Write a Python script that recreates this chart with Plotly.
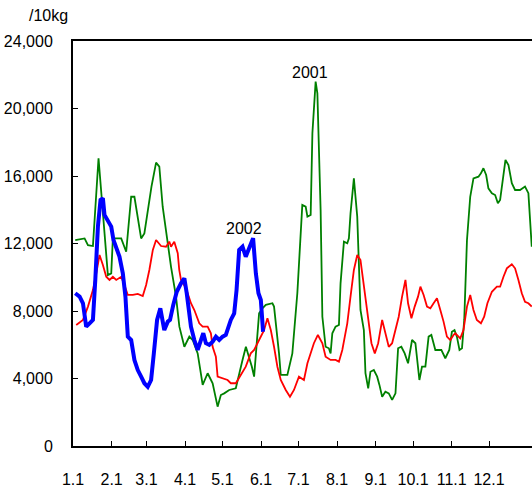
import plotly.graph_objects as go

# day of year (0 = Jan 1) and price per 10kg
green_days = [1.8, 9.3, 12, 16, 20.5, 28, 30.7, 32, 38.7, 42.7, 46.7, 49.3, 54.7, 57.3, 63, 66.7,
              69.3, 72, 78.7, 82.7, 85.4, 89.4, 93.4, 96.1, 100.1, 104.1, 108.1, 112.1, 116.1,
              118.7, 121.4, 125.4, 130.7, 133.4, 136.1, 138.8, 141.4, 143.6, 145.4, 146.8, 149.4,
              152.1, 154.8, 160.1, 161.4, 165.4, 166.8, 172.1, 176.1, 180.1, 181.4, 184.1, 186.8,
              188.2, 190.8, 192.2, 194.8, 196.2, 198.8, 200.2, 202.8, 205.4, 206.8, 208.2, 210.8,
              213.5, 214.8, 217.5, 220.2, 221.5, 222.8, 225.5, 228.2, 230.8, 233.5, 234.8, 237,
              238.8, 241.5, 244.2, 246, 248.2, 250.8, 253.5, 256.2, 258.9, 261, 263.6, 266.3, 269,
              272.2, 274.9, 278.1, 280.2, 282.9, 285.5, 287.7, 290.9, 295.7, 298.9, 302.1, 304.2,
              306.3, 308.2, 310.3, 312.3, 314.1, 316.3, 318.9, 321.5, 325.5, 327.5, 329.5, 331.7,
              333.5, 336.3, 338.9, 341.1, 342.9, 345.1, 347.2, 349.6, 352.3, 354.9, 358.9, 362.9,
              365.6, 368.3]
green_vals = [12200, 12300, 11900, 11850, 17050, 10130, 10230, 12300, 12300, 11510, 14770, 14770,
              12300, 12600, 15370, 16790, 16550, 14180, 10620, 8850, 7070, 5880, 6480, 6280, 5490,
              3620, 4310, 3720, 2330, 3020, 3120, 3320, 3420, 4310, 5100, 5880, 5290, 4700, 4110,
              5490, 7860, 8160, 8360, 8460, 8260, 5490, 4210, 4210, 5490, 9050, 11020, 14280,
              14180, 13590, 13690, 18530, 21590, 20900, 13990, 7660, 5880, 5790, 5490, 6680, 7070,
              7170, 9640, 12110, 12010, 12310, 13790, 15860, 13590, 8060, 6870, 4310, 3420, 4400,
              4500, 4110, 3620, 2920, 3220, 3120, 2730, 3120, 5790, 5880, 5490, 4900, 6280, 6090,
              3910, 4700, 4700, 6480, 6580, 5690, 5690, 5200, 5690, 6770, 6870, 6480, 5690, 5790,
              7470, 12210, 14770, 15860, 15960, 16160, 16460, 16060, 15270, 14980, 14870, 14380,
              14580, 15760, 16950, 16650, 15570, 15170, 15170, 15370, 14980, 11810]

red_days = [2.6, 8, 12, 16, 18.7, 21.3, 24, 26.7, 29.3, 32, 34.7, 38.7, 41.3, 44, 48, 52, 56,
            58.7, 61.3, 64.1, 66.7, 70.7, 74.7, 77.3, 78.7, 81.3, 84.1, 85.3, 86.7, 90.7, 94.7,
            97.4, 101.4, 104.1, 108.1, 110.7, 112.1, 114.7, 116.1, 120.1, 124.1, 126.7, 130.7,
            134.7, 138.7, 142.7, 145.4, 149.4, 153.4, 156.1, 158.8, 161.4, 164.1, 166.8, 170.8,
            174.2, 177.4, 181.4, 185.4, 188.2, 190.8, 193.4, 196.6, 200.2, 202.8, 206.8, 210.8,
            213.5, 216.2, 220.2, 222.8, 225.5, 228.2, 230.8, 232.2, 234.8, 237.5, 239.6, 242.3,
            245, 248.2, 250.8, 253.5, 256.2, 258.9, 261.5, 264.2, 266.9, 269, 271.7, 274.3, 277,
            278.9, 281.5, 284.2, 286.9, 289.5, 292.2, 294.9, 297.5, 300.2, 302.9, 305.5, 306.9,
            310.9, 313.5, 316.3, 318.9, 321.5, 324.2, 327.5, 330.1, 332.7, 336.3, 340.3, 342.9,
            345.6, 348.3, 352.3, 354.9, 357.6, 360.3, 362.9, 365.6, 368.3]
red_vals = [7170, 7470, 8260, 9240, 10230, 11320, 10730, 10030, 9840, 10030, 9840, 10030, 9540,
            8950, 8950, 9010, 8890, 9540, 10430, 11620, 12210, 11850, 11810, 12110, 11810, 12110,
            11420, 10430, 9840, 9350, 8460, 8060, 7270, 7070, 7070, 6680, 5880, 5290, 4110, 4010,
            3910, 3720, 3720, 4210, 4700, 5490, 5690, 6280, 6870, 7570, 6870, 5880, 4700, 3910,
            3320, 2920, 3320, 4110, 3910, 4900, 5490, 6090, 6580, 6090, 5290, 5100, 5100, 5000,
            5690, 7270, 8850, 10430, 11320, 11020, 10230, 8850, 7470, 6090, 5490, 6090, 7470,
            6680, 5880, 6090, 6870, 7660, 8850, 9840, 8460, 7570, 8260, 8850, 9440, 8950, 8260,
            8160, 8460, 8750, 8060, 7370, 6480, 6280, 6580, 6680, 6380, 6870, 8260, 8950, 8060,
            7470, 7270, 7660, 8460, 9140, 9440, 9440, 10030, 10530, 10770, 10530, 9840, 9050,
            8550, 8460, 8260]

blue_days = [1.8, 5.3, 8, 9.3, 10.6, 13.3, 16, 17.9, 20, 22.1, 24, 25.3, 28, 30.7, 32.5, 34.7,
             37.3, 40, 42.1, 44, 46.7, 49.3, 52, 54.7, 57.3, 60, 62.7, 64.9, 67.5, 70.1, 73.3,
             76.1, 77.9, 80.5, 83.3, 86.7, 89.4, 91.3, 92.9, 94.7, 97.4, 100.1, 102.7, 104.6,
             106.7, 109.4, 112.1, 114.7, 117.4, 120.1, 122.7, 126.7, 129.4, 131.3, 133.4, 136.1,
             138.7, 141.4, 144.6, 146.8, 148.9, 150.8, 152.1, 152.6]
blue_vals = [9050, 8850, 8460, 7660, 7070, 7270, 7470, 9840, 13000, 14580, 14680, 13690, 13290,
             13000, 12210, 11810, 11220, 10230, 8850, 6480, 6280, 5100, 4500, 4110, 3720, 3510,
             3910, 5490, 7470, 8160, 6870, 7370, 7470, 8360, 9140, 9640, 9940, 9050, 8060, 7070,
             6280, 5690, 6280, 6680, 6090, 5990, 6180, 6480, 6280, 6480, 6580, 7470, 7860, 9240,
             11620, 11810, 11220, 11720, 12310, 10230, 9050, 8650, 7070, 6770]

month_days = [0, 31, 59, 90, 120, 151, 181, 212, 243, 273, 304, 334]
month_labels = ["1.1", "2.1", "3.1", "4.1", "5.1", "6.1", "7.1", "8.1", "9.1", "10.1", "11.1", "12.1"]
y_ticks = [0, 4000, 8000, 12000, 16000, 20000, 24000]
y_labels = ["0", "4,000", "8,000", "12,000", "16,000", "20,000", "24,000"]

FONT = "Liberation Sans, Arial, sans-serif"

fig = go.Figure()
fig.add_trace(go.Scatter(x=green_days, y=green_vals, mode="lines", name="2001",
                         line=dict(color="#008000", width=1.8)))
fig.add_trace(go.Scatter(x=red_days, y=red_vals, mode="lines", name="avg",
                         line=dict(color="#ff0000", width=1.8)))
fig.add_trace(go.Scatter(x=blue_days, y=blue_vals, mode="lines", name="2002",
                         line=dict(color="#0000ff", width=4)))

fig.add_annotation(x=190.5, y=22150, text="2001", showarrow=False,
                   font=dict(size=16, color="black", family=FONT))
fig.add_annotation(x=137, y=12900, text="2002", showarrow=False,
                   font=dict(size=16, color="black", family=FONT))
fig.add_annotation(xref="paper", yref="paper", x=-0.054, y=1.0, yshift=26, text="/10kg",
                   showarrow=False, xanchor="center", yanchor="middle",
                   font=dict(size=16, color="black", family=FONT))

fig.update_layout(
    width=532, height=491,
    margin=dict(l=73, r=0, t=41, b=45),
    plot_bgcolor="white", paper_bgcolor="white",
    showlegend=False,
    font=dict(family=FONT, size=16, color="black"),
)
fig.update_xaxes(range=[0, 368.5], tickvals=month_days, ticktext=month_labels,
                 showgrid=False, zeroline=False, showline=True, linecolor="black", linewidth=2,
                 mirror=True, ticks="inside", ticklen=5, tickcolor="black", tickwidth=1,
                 ticklabelstandoff=18)
fig.update_yaxes(range=[0, 24000], tickvals=y_ticks, ticktext=y_labels,
                 showgrid=False, zeroline=False, showline=True, linecolor="black", linewidth=2,
                 ticks="inside", ticklen=5, tickcolor="black", tickwidth=1,
                 ticklabelstandoff=15, automargin=False)

# drop the page margin so the 532x491 figure fills the window exactly
fig.write_html("out.html", config={"displayModeBar": False},
               post_script="document.body.style.margin='0';document.body.style.overflow='hidden';")
